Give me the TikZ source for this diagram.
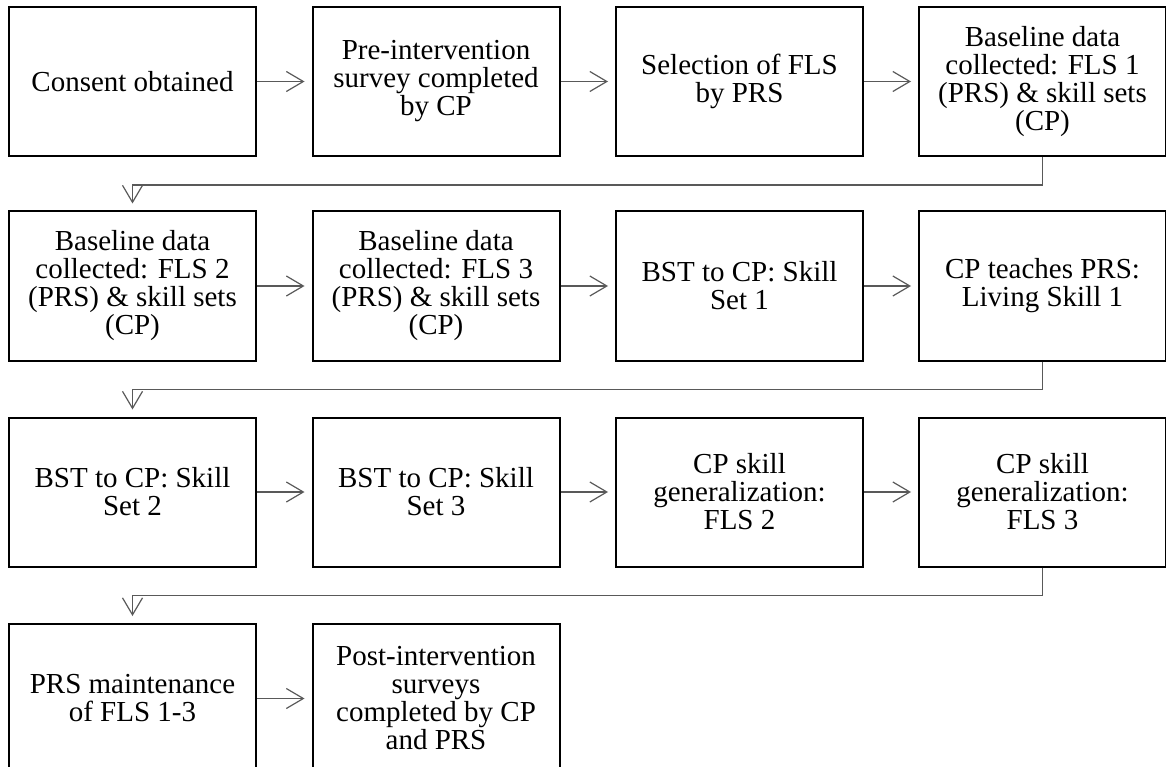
\documentclass[tikz,border=0pt]{standalone}
\usepackage{fontspec}
\setmainfont{Liberation Serif}
\usetikzlibrary{arrows.meta}
\begin{document}
\begin{tikzpicture}[x=1pt,y=-1pt,
  box/.style={draw=black, line width=2pt, minimum width=247pt, minimum height=149pt,
    inner sep=0pt, align=center, font=\fontsize{29}{28}\selectfont},
  conn/.style={draw=black!65, line width=1.2pt,
    -{Straight Barb[length=17pt,width=20pt]}, shorten >=7pt}]
\clip (0,0) rectangle (1166,767);
\useasboundingbox (0,0) rectangle (1166,767);
% row 1
\node[box] (n1) at (132.5,81.5) {Consent obtained};
\node[box] (n2) at (436,81.5) {Pre-intervention\\survey completed\\by CP};
\node[box] (n3) at (739.5,81.5) {Selection of FLS\\by PRS};
\node[box] (n4) at (1042.5,81.5) {Baseline data\\collected: FLS 1\\(PRS) \& skill sets\\(CP)};
% row 2
\node[box] (n5) at (132.5,286) {Baseline data\\collected: FLS 2\\(PRS) \& skill sets\\(CP)};
\node[box] (n6) at (436,286) {Baseline data\\collected: FLS 3\\(PRS) \& skill sets\\(CP)};
\node[box] (n7) at (739.5,286) {BST to CP: Skill\\Set 1};
\node[box] (n8) at (1042.5,286) {CP teaches PRS:\\Living Skill 1};
% row 3
\node[box] (n9) at (132.5,492) {BST to CP: Skill\\Set 2};
\node[box] (n10) at (436,492) {BST to CP: Skill\\Set 3};
\node[box] (n11) at (739.5,492) {CP skill\\generalization:\\FLS 2};
\node[box] (n12) at (1042.5,492) {CP skill\\generalization:\\FLS 3};
% row 4
\node[box] (n13) at (132.5,698.5) {PRS maintenance\\of FLS 1-3};
\node[box] (n14) at (436,698.5) {Post-intervention\\surveys\\completed by CP\\and PRS};
% connectors
\draw[conn] (n1) -- (n2);
\draw[conn] (n2) -- (n3);
\draw[conn] (n3) -- (n4);
\draw[conn] (n4.south) -- ++(0,28) -| (n5.north);
\draw[conn] (n5) -- (n6);
\draw[conn] (n6) -- (n7);
\draw[conn] (n7) -- (n8);
\draw[conn] (n8.south) -- ++(0,28) -| (n9.north);
\draw[conn] (n9) -- (n10);
\draw[conn] (n10) -- (n11);
\draw[conn] (n11) -- (n12);
\draw[conn] (n12.south) -- ++(0,28) -| (n13.north);
\draw[conn] (n13) -- (n14);
\end{tikzpicture}
\end{document}
